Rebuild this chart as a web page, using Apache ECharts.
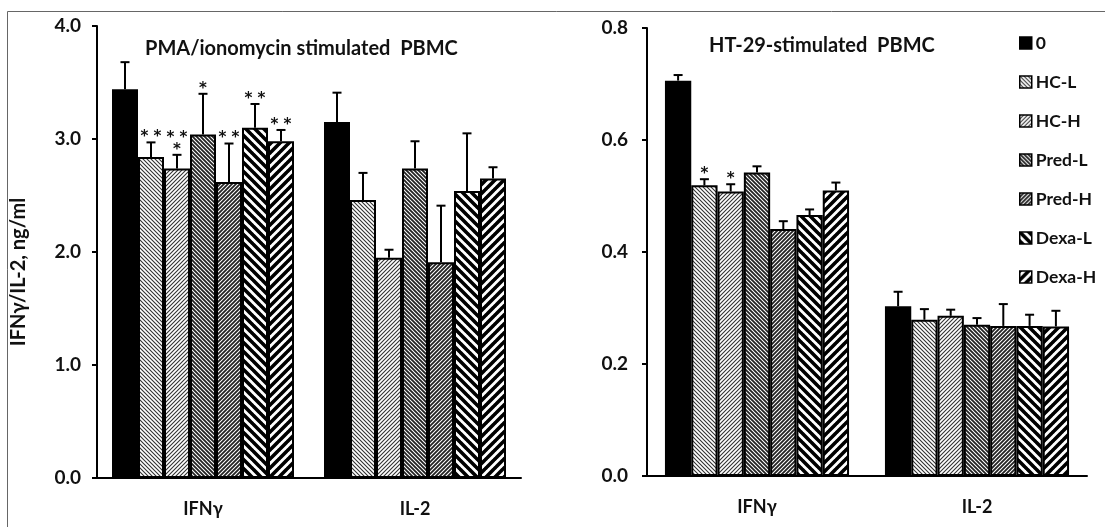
<!DOCTYPE html>
<html>
<head>
<meta charset="utf-8">
<script src="https://cdn.jsdelivr.net/npm/echarts@6/dist/echarts.min.js"></script>
<style>
  html, body { margin: 0; padding: 0; background: #fff; }
  #main { width: 1105px; height: 527px; }
</style>
</head>
<body>
<div id="main"></div>
<script>
var groups = ['IFNγ', 'IL-2'];
var treatments = ['0', 'HC-L', 'HC-H', 'Pred-L', 'Pred-H', 'Dexa-L', 'Dexa-H'];

// PMA/ionomycin panel, [IFNγ, IL-2] per treatment
var pmaMean = [[3.44, 3.15], [2.84, 2.46], [2.74, 1.95], [3.04, 2.74], [2.62, 1.91], [3.10, 2.54], [2.98, 2.65]];
var pmaSd = [[0.24, 0.26], [0.13, 0.24], [0.12, 0.07], [0.36, 0.24], [0.34, 0.50], [0.21, 0.51], [0.10, 0.10]];
var pmaStars = [['', ''], ['* *', ''], ['* *\n*', ''], ['*', ''], ['* *', ''], ['* *', ''], ['* *', '']];

// HT-29 panel
var htMean = [[0.706, 0.303], [0.519, 0.279], [0.508, 0.286], [0.542, 0.270], [0.441, 0.268], [0.466, 0.268], [0.510, 0.267]];
var htSd = [[0.010, 0.026], [0.011, 0.019], [0.013, 0.011], [0.011, 0.012], [0.014, 0.039], [0.010, 0.020], [0.014, 0.028]];
var htStars = [['', ''], ['*', ''], ['*', ''], ['', ''], ['', ''], ['', ''], ['', '']];

var leftTicks = [0, 1, 2, 3, 4];
var rightTicks = [0, 0.2, 0.4, 0.6, 0.8];

var FONT = 'Lato';
var INK = '#111';

// hatch fills
function hatch(dir, size, lw, color) {
  var c = document.createElement('canvas');
  c.width = size; c.height = size;
  var ctx = c.getContext('2d');
  ctx.fillStyle = '#fff';
  ctx.fillRect(0, 0, size, size);
  ctx.strokeStyle = color;
  ctx.lineWidth = lw;
  ctx.beginPath();
  if (dir === '\\') {
    ctx.moveTo(-1, -1); ctx.lineTo(size + 1, size + 1);
    ctx.moveTo(-1, size - 1); ctx.lineTo(1, size + 1);
    ctx.moveTo(size - 1, -1); ctx.lineTo(size + 1, 1);
  } else {
    ctx.moveTo(-1, size + 1); ctx.lineTo(size + 1, -1);
    ctx.moveTo(-1, 1); ctx.lineTo(1, -1);
    ctx.moveTo(size - 1, size + 1); ctx.lineTo(size + 1, size - 1);
  }
  ctx.stroke();
  return { image: c, repeat: 'repeat' };
}

var fills = [
  '#000',
  hatch('\\', 4, 1.1, '#333'),
  hatch('/', 4, 1.1, '#333'),
  hatch('\\', 4, 1.8, '#222'),
  hatch('/', 4, 1.8, '#222'),
  hatch('\\', 9, 3.6, '#000'),
  hatch('/', 9, 3.6, '#000')
];

var chart = echarts.init(document.getElementById('main'));

function barSeries(mean, axisIdx, barW) {
  return treatments.map(function (name, s) {
    return {
      name: name,
      type: 'bar',
      xAxisIndex: axisIdx,
      yAxisIndex: axisIdx,
      barWidth: barW,
      barGap: '0%',
      itemStyle: { color: fills[s], borderColor: '#000', borderWidth: 2 },
      data: mean[s]
    };
  });
}

function errSeries(mean, sd, stars, axisIdx, barW) {
  var data = [], labels = [];
  for (var s = 0; s < treatments.length; s++) {
    for (var c = 0; c < groups.length; c++) {
      data.push([c, mean[s][c], mean[s][c] + sd[s][c], s]);
      labels.push(stars[s][c]);
    }
  }
  return {
    name: 'err' + axisIdx,
    type: 'custom',
    xAxisIndex: axisIdx,
    yAxisIndex: axisIdx,
    z: 3,
    data: data,
    renderItem: function (params, api) {
      var cat = api.value(0);
      var base = api.coord([cat, api.value(1)]);
      var top = api.coord([cat, api.value(2)]);
      var x = base[0] + (api.value(3) - 3) * barW;
      var st = { stroke: '#000', lineWidth: 2 };
      return {
        type: 'group',
        children: [
          { type: 'line', shape: { x1: x, y1: base[1], x2: x, y2: top[1] }, style: st },
          { type: 'line', shape: { x1: x - 4.5, y1: top[1], x2: x + 4.5, y2: top[1] }, style: st },
          {
            type: 'text',
            style: {
              x: x, y: top[1] + 1, text: labels[params.dataIndex],
              align: 'center', verticalAlign: 'bottom',
              font: 'bold 15px "DejaVu Sans"', fill: INK, lineHeight: 12
            }
          }
        ]
      };
    }
  };
}

function tickFmt(v) { return v.toFixed(1); }

var axisLine = { lineStyle: { color: '#000', width: 2 } };

var option = {
  animation: false,
  graphic: [{
    type: 'rect',
    shape: { x: 7.5, y: 11.5, width: 1200, height: 600 },
    style: { fill: 'none', stroke: '#666', lineWidth: 1 }
  }],
  title: [
    { text: 'PMA/ionomycin stimulated  PBMC', left: 140, top: 34,
      textStyle: { fontFamily: FONT, fontWeight: 'bold', fontSize: 20, color: INK } },
    { text: 'HT-29-stimulated  PBMC', left: 704, top: 31,
      textStyle: { fontFamily: FONT, fontWeight: 'bold', fontSize: 20, color: INK } }
  ],
  legend: {
    data: treatments,
    orient: 'vertical',
    left: 1014,
    top: 29,
    itemWidth: 12,
    itemHeight: 12,
    itemGap: 21,
    icon: 'rect',
    itemStyle: { borderColor: '#000', borderWidth: 1.5 },
    textStyle: { fontFamily: FONT, fontWeight: 'bold', fontSize: 17.5, color: INK, padding: [0, 0, 0, -1] }
  },
  grid: [
    { left: 97, width: 424, top: 26, bottom: 49 },
    { left: 647, width: 440, top: 28, bottom: 51 }
  ],
  xAxis: [0, 1].map(function (i) {
    return {
      type: 'category',
      gridIndex: i,
      data: groups,
      axisLine: axisLine,
      axisTick: { length: 7, lineStyle: { color: '#000', width: 2 } },
      axisLabel: { margin: 22, fontFamily: FONT, fontWeight: 'bold', fontSize: 18, color: INK }
    };
  }),
  yAxis: [
    {
      type: 'value', gridIndex: 0,
      min: leftTicks[0], max: leftTicks[leftTicks.length - 1], interval: 1,
      name: 'IFNγ/IL-2, ng/ml', nameLocation: 'middle', nameGap: 68,
      nameTextStyle: { fontFamily: FONT, fontWeight: 'bold', fontSize: 20, color: INK, padding: [0, 40, 0, 0] },
      axisLine: { show: true, lineStyle: { color: '#000', width: 2 } },
      axisTick: { show: true, length: 5, lineStyle: { color: '#000', width: 2 } },
      splitLine: { show: false },
      axisLabel: { margin: 16, formatter: tickFmt, fontFamily: FONT, fontWeight: 'bold', fontSize: 19, color: INK }
    },
    {
      type: 'value', gridIndex: 1,
      min: rightTicks[0], max: rightTicks[rightTicks.length - 1], interval: 0.2,
      axisLine: { show: true, lineStyle: { color: '#000', width: 2 } },
      axisTick: { show: true, length: 5, lineStyle: { color: '#000', width: 2 } },
      splitLine: { show: false },
      axisLabel: { margin: 19, formatter: tickFmt, fontFamily: FONT, fontWeight: 'bold', fontSize: 19, color: INK }
    }
  ],
  series: []
    .concat(barSeries(pmaMean, 0, 26))
    .concat(barSeries(htMean, 1, 26.3))
    .concat([errSeries(pmaMean, pmaSd, pmaStars, 0, 26), errSeries(htMean, htSd, htStars, 1, 26.3)])
};

chart.setOption(option);
window.addEventListener('resize', function () {
  chart.resize();
});
</script>
</body>
</html>
